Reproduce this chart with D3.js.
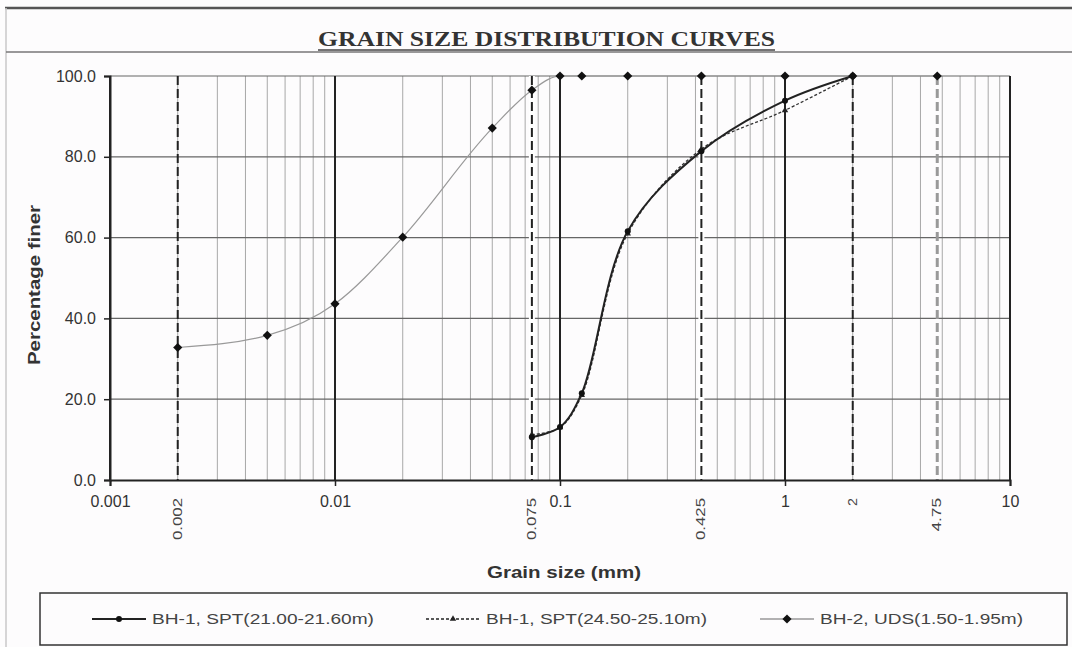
<html>
<head>
<meta charset="utf-8">
<title>Grain size distribution</title>
<style>
  body { margin: 0; background: #fdfcfd; }
  svg { display: block; font-family: "Liberation Sans", Arial, sans-serif; }
</style>
</head>
<body>
<svg width="1072" height="647"></svg>
<script src="https://d3js.org/d3.v7.min.js"></script>
<script>

// grain sizes (mm) and percentage finer
var sizes1 = [0.075, 0.1, 0.125, 0.2, 0.425, 1, 2];
var finer1 = [10.6, 13.1, 21.5, 61.6, 81.4, 93.9, 100];
var sizes2 = [0.075, 0.1, 0.125, 0.2, 0.425, 1, 2];
var finer2 = [11.2, 13.0, 21.0, 61.0, 81.9, 91.5, 100];
var sizes3 = [0.002, 0.005, 0.01, 0.02, 0.05, 0.075, 0.1, 0.125, 0.2, 0.425, 1, 2, 4.75];
var finer3 = [32.8, 35.8, 43.6, 60.1, 87.1, 96.5, 100, 100, 100, 100, 100, 100, 100];

var seriesNames = ["BH-1, SPT(21.00-21.60m)", "BH-1, SPT(24.50-25.10m)", "BH-2, UDS(1.50-1.95m)"];
var yTicks = [0, 20, 40, 60, 80, 100];
var xDecades = [0.001, 0.01, 0.1, 1, 10];
var sieveLines = [0.002, 0.075, 0.425, 2, 4.75];
var sieveLabels = ["0.002", "0.075", "0.425", "2", "4.75"];

var svg = d3.select("svg");
var x = d3.scaleLog().domain([0.001, 10]).range([110, 1010]);
var y = d3.scaleLinear().domain([0, 100]).range([480, 76]);

// frame and title band
svg.append("line").attr("x1", 5).attr("x2", 1072).attr("y1", 8).attr("y2", 8)
  .style("stroke", "#555").style("stroke-width", 2.5);
svg.append("line").attr("x1", 6).attr("x2", 6).attr("y1", 8).attr("y2", 647)
  .style("stroke", "#c8c8c8").style("stroke-width", 1.5);
svg.append("line").attr("x1", 6).attr("x2", 1072).attr("y1", 52).attr("y2", 52)
  .style("stroke", "#777").style("stroke-width", 1.5);

svg.append("text")
  .attr("x", 318).attr("y", 46)
  .attr("textLength", 457).attr("lengthAdjust", "spacingAndGlyphs")
  .style("font-family", "'Liberation Serif', 'Times New Roman', serif")
  .style("font-weight", "bold")
  .style("font-size", "21px")
  .style("fill", "#333")
  .text("GRAIN SIZE DISTRIBUTION CURVES");
svg.append("line").attr("x1", 318).attr("x2", 775)
  .attr("y1", 50).attr("y2", 50).style("stroke", "#444").style("stroke-width", 1.5);

// minor grid
var minors = [];
xDecades.slice(0, -1).forEach(function(d) {
  for (var k = 2; k <= 9; k++) minors.push(d * k);
});
svg.append("g").selectAll("line").data(minors).enter().append("line")
  .attr("x1", function(d) { return x(d); }).attr("x2", function(d) { return x(d); })
  .attr("y1", y(100)).attr("y2", y(0))
  .style("stroke", "#a8a8a8").style("stroke-width", 1);

svg.append("g").selectAll("line").data(yTicks.slice(1)).enter().append("line")
  .attr("x1", x(0.001)).attr("x2", x(10))
  .attr("y1", function(d) { return y(d); }).attr("y2", function(d) { return y(d); })
  .style("stroke", "#666").style("stroke-width", 1.2);

svg.append("g").selectAll("line").data(xDecades).enter().append("line")
  .attr("x1", function(d) { return x(d); }).attr("x2", function(d) { return x(d); })
  .attr("y1", y(100)).attr("y2", y(0))
  .style("stroke", "#222").style("stroke-width", 2);

// sieve reference lines
var sv = svg.append("g");
sieveLines.forEach(function(d, i) {
  if (d == 0.075 || d == 0.425) {
    sv.append("line").attr("x1", x(d)).attr("x2", x(d)).attr("y1", y(100)).attr("y2", y(0))
      .style("stroke", "#fff").style("stroke-width", 6);
  }
  sv.append("line").attr("x1", x(d)).attr("x2", x(d)).attr("y1", y(100)).attr("y2", y(0))
    .style("stroke", d == 4.75 ? "#999" : "#222")
    .style("stroke-width", d == 4.75 ? 3 : 2)
    .style("stroke-dasharray", "9,4");
});

// axes
var yAxis = svg.append("g").attr("transform", "translate(110,0)")
  .call(d3.axisLeft(y).tickValues(yTicks).tickFormat(d3.format(".1f")).tickSizeOuter(0).tickSize(6));
var xAxis = svg.append("g").attr("transform", "translate(0,480)")
  .call(d3.axisBottom(x).tickValues(xDecades).tickFormat(function(d) { return String(d); }).tickSizeOuter(0).tickSize(6));
[yAxis, xAxis].forEach(function(a) {
  a.select(".domain").style("stroke", "#222").style("stroke-width", 2);
  a.selectAll(".tick line").style("stroke", "#222").style("stroke-width", 1.5);
  a.selectAll("text").style("font-family", "'Liberation Sans', Arial, sans-serif")
    .style("font-size", "16px").style("fill", "#333");
});
yAxis.selectAll("text").attr("x", -14);
xAxis.selectAll("text").attr("y", 16);

svg.append("g").selectAll("text").data(sieveLabels).enter().append("text")
  .attr("transform", function(d, i) { return "translate(" + (x(sieveLines[i]) + 4) + ",498) rotate(-90)"; })
  .attr("text-anchor", "end")
  .attr("textLength", function(d) { return d.length > 1 ? d.length * 8.4 : 8; })
  .attr("lengthAdjust", "spacingAndGlyphs")
  .style("font-size", "12px").style("fill", "#444")
  .text(function(d) { return d; });

svg.append("text").attr("x", 487).attr("y", 578)
  .attr("textLength", 154).attr("lengthAdjust", "spacingAndGlyphs")
  .style("font-weight", "bold").style("font-size", "16px").style("fill", "#333")
  .text("Grain size (mm)");
svg.append("text").attr("transform", "translate(40,365) rotate(-90)")
  .attr("textLength", 160).attr("lengthAdjust", "spacingAndGlyphs")
  .style("font-weight", "bold").style("font-size", "16px").style("fill", "#333")
  .text("Percentage finer");

// curves
var smooth = d3.line().x(function(d) { return x(d[0]); }).y(function(d) { return y(d[1]); })
  .curve(d3.curveCatmullRom.alpha(0.5));
var mono = d3.line().x(function(d) { return x(d[0]); }).y(function(d) { return y(d[1]); })
  .curve(d3.curveMonotoneX);
var data1 = d3.zip(sizes1, finer1);
var data2 = d3.zip(sizes2, finer2);
var data3 = d3.zip(sizes3, finer3);

svg.append("path").datum(data3).attr("d", mono)
  .style("fill", "none").style("stroke", "#999").style("stroke-width", 1.2);
svg.append("path").datum(data2).attr("d", smooth)
  .style("fill", "none").style("stroke", "#333").style("stroke-width", 1.3).style("stroke-dasharray", "3,2");
svg.append("path").datum(data1).attr("d", smooth)
  .style("fill", "none").style("stroke", "#222").style("stroke-width", 2);

var diamond = d3.symbol().type(d3.symbolSquare).size(42);
var tri = d3.symbol().type(d3.symbolTriangle).size(18);
svg.append("g").selectAll("path").data(data3).enter().append("path")
  .attr("d", diamond)
  .attr("transform", function(d) { return "translate(" + x(d[0]) + "," + y(d[1]) + ") rotate(45)"; })
  .style("fill", "#111");
svg.append("g").selectAll("path").data(data2).enter().append("path")
  .attr("d", tri)
  .attr("transform", function(d) { return "translate(" + x(d[0]) + "," + y(d[1]) + ")"; })
  .style("fill", "#222");
svg.append("g").selectAll("circle").data(data1).enter().append("circle")
  .attr("cx", function(d) { return x(d[0]); }).attr("cy", function(d) { return y(d[1]); })
  .attr("r", 3).style("fill", "#111");

// legend
svg.append("rect").attr("x", 40).attr("y", 593).attr("width", 1027).attr("height", 52)
  .style("fill", "none").style("stroke", "#333").style("stroke-width", 1.5);
var legendX = [92, 426, 760];
var legendTextW = [222, 221, 203];
var lg = svg.append("g");
seriesNames.forEach(function(name, i) {
  var lx = legendX[i], ly = 619;
  var l = lg.append("line").attr("x1", lx).attr("x2", lx + 54).attr("y1", ly).attr("y2", ly)
    .style("stroke", i == 2 ? "#999" : "#222").style("stroke-width", i == 0 ? 2 : 1.3);
  if (i == 1) l.style("stroke-dasharray", "3,2");
  var m = lg.append("g").attr("transform", "translate(" + (lx + 27) + "," + ly + ")");
  if (i == 0) m.append("circle").attr("r", 3).style("fill", "#111");
  if (i == 1) m.append("path").attr("d", tri).style("fill", "#222");
  if (i == 2) m.append("path").attr("d", diamond).attr("transform", "rotate(45)").style("fill", "#111");
  lg.append("text").attr("x", lx + 60).attr("y", ly + 5)
    .attr("textLength", legendTextW[i]).attr("lengthAdjust", "spacingAndGlyphs")
    .style("font-size", "15px").style("fill", "#444").text(name);
});

</script>
</body>
</html>
